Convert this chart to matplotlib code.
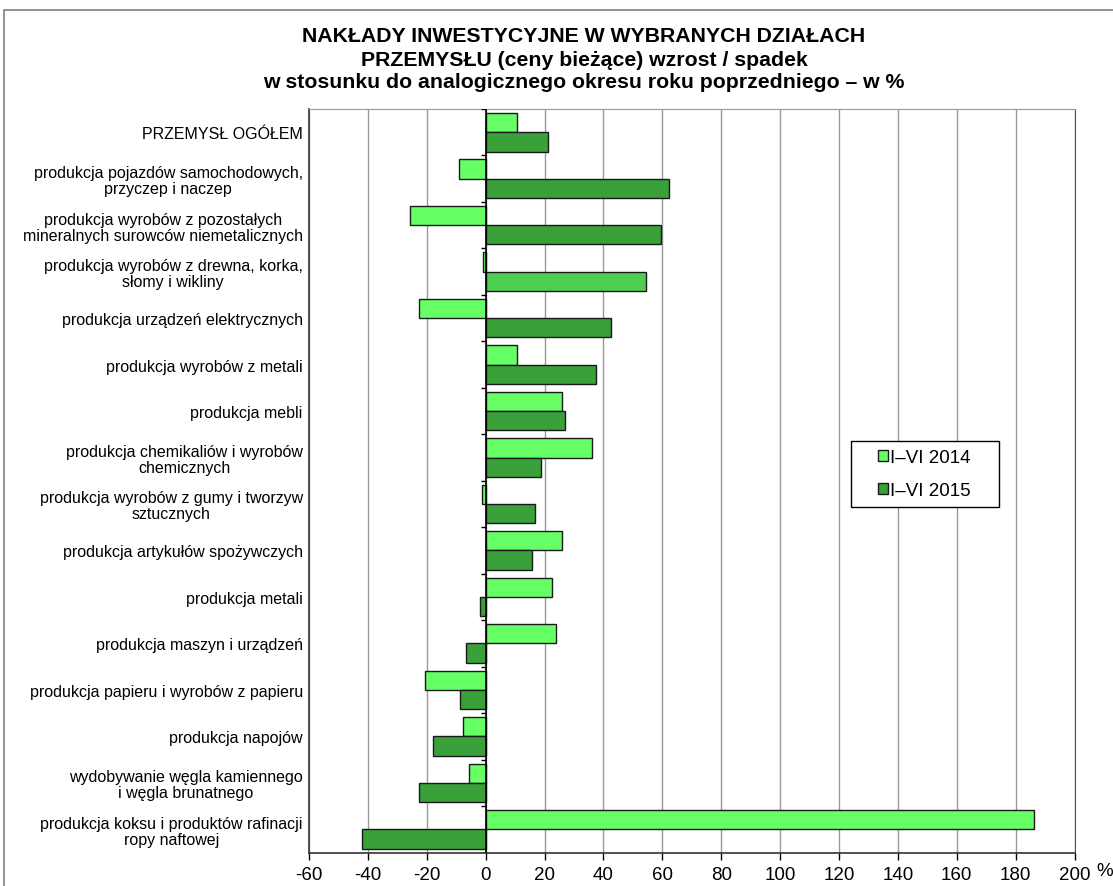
import matplotlib.pyplot as plt
import matplotlib.patches as mpatches
import matplotlib.transforms as mtransforms
import numpy as np

plt.rcParams["font.family"] = ["Liberation Sans", "DejaVu Sans"]

# Industry sections, top to bottom
categories = [
    "PRZEMYSŁ OGÓŁEM",
    "produkcja pojazdów samochodowych,\nprzyczep i naczep",
    "produkcja wyrobów z pozostałych\nmineralnych surowców niemetalicznych",
    "produkcja wyrobów z drewna, korka,\nsłomy i wikliny",
    "produkcja urządzeń elektrycznych",
    "produkcja wyrobów z metali",
    "produkcja mebli",
    "produkcja chemikaliów i wyrobów\nchemicznych",
    "produkcja wyrobów z gumy i tworzyw\nsztucznych",
    "produkcja artykułów spożywczych",
    "produkcja metali",
    "produkcja maszyn i urządzeń",
    "produkcja papieru i wyrobów z papieru",
    "produkcja napojów",
    "wydobywanie węgla kamiennego\ni węgla brunatnego",
    "produkcja koksu i produktów rafinacji\nropy naftowej",
]

# Change vs. same period of previous year, %
h1_2014 = [10.7, -9.2, -25.8, -1.0, -22.6, 10.7, 25.9, 36.1,
           -1.2, 25.9, 22.6, 24.0, -20.5, -7.7, -5.8, 186.4]
h1_2015 = [21.2, 62.4, 59.6, 54.4, 42.5, 37.6, 26.9, 18.8,
           16.6, 15.8, -1.8, -6.7, -8.7, -17.8, -22.5, -42.0]

series_names = ["I\u2013VI 2014", "I\u2013VI 2015"]
x_ticks = list(range(-60, 201, 20))

title_lines = [
    "NAKŁADY INWESTYCYJNE W WYBRANYCH DZIAŁACH",
    "PRZEMYSŁU (ceny bieżące) wzrost / spadek",
    "w stosunku do analogicznego okresu roku poprzedniego \u2013 w %",
]

LIGHT = "#66ff66"
DARK = "#3aa03a"
MID = "#4fcf4f"
EDGE = "#1a1a1a"

W, H = 1113, 887
fig = plt.figure(figsize=(W / 100, H / 100), dpi=100)

# Outer frame of the chart
fig.patches.append(mpatches.Rectangle(
    (4 / W, -0.05), 1.2, 1 - 11 / H + 0.05, transform=fig.transFigure,
    fill=False, edgecolor="#808080", lw=1.2, zorder=0))

ax = fig.add_axes([309 / W, 1 - 853.5 / H, 765.5 / W, 743.5 / H])

y = np.arange(len(categories))
h = 0.415
# the wood-products bar is drawn in a lighter shade
colors_2015 = [MID if i == 3 else DARK for i in range(len(h1_2015))]

ax.barh(y - h / 2, h1_2014, height=h, color=LIGHT, edgecolor=EDGE,
        lw=1, zorder=3)
ax.barh(y + h / 2, h1_2015, height=h, color=colors_2015, edgecolor=EDGE,
        lw=1, zorder=3)

ax.set_xlim(x_ticks[0], x_ticks[-1])
ax.set_ylim(len(categories) - 0.5, -0.5)
ax.set_xticks(x_ticks)
ax.set_xticklabels([str(t) for t in x_ticks], fontsize=13.5)
ax.tick_params(axis="x", length=5, width=1, pad=5, direction="out")
ax.set_yticks(y)
ax.set_yticklabels(categories, fontsize=11.5, linespacing=1.08)
for lbl in ax.get_yticklabels():
    lbl.set_multialignment("center")
ax.tick_params(axis="y", length=0, pad=4.5)

ax.grid(axis="x", color="#9a9a9a", lw=1, zorder=1)
ax.axvline(0, color="black", lw=1.2, zorder=4)
# Category separators on the zero line
ax.hlines(np.arange(len(categories) + 1) - 0.5, -1.5, 0, color="black",
          lw=1, zorder=4)

for side in ["left", "bottom"]:
    ax.spines[side].set_color("#333333")
    ax.spines[side].set_linewidth(1.2)
ax.spines["top"].set_color("#9a9a9a")
ax.spines["right"].set_color("#555555")

# unit sign after the last tick label
unit_tr = mtransforms.offset_copy(ax.transAxes, fig=fig, x=22, y=-18,
                                  units="dots")
ax.text(1.0, 0.0, "%", transform=unit_tr, fontsize=13.5,
        ha="left", va="center")

# Legend: white box drawn separately, entries on top of it
fig.patches.append(mpatches.Rectangle(
    (851 / W, 1 - 508 / H), 148 / W, 66 / H, transform=fig.transFigure,
    facecolor="white", edgecolor="black", lw=1, zorder=4))
handles = [mpatches.Patch(facecolor=LIGHT, edgecolor=EDGE, lw=1),
           mpatches.Patch(facecolor=DARK, edgecolor=EDGE, lw=1)]
leg = fig.legend(handles, series_names, loc="center left",
                 bbox_to_anchor=(878 / W, 1 - 475 / H), fontsize=13.5,
                 frameon=False, handlelength=0.55, handleheight=0.55,
                 handletextpad=0.1, labelspacing=0.85, borderpad=0,
                 borderaxespad=0)
leg.set_zorder(6)

for line, ypx in zip(title_lines, [37, 60, 83]):
    fig.text(584 / W, 1 - ypx / H, line, ha="center", va="center",
             fontsize=15.3, fontweight="bold")

fig.savefig("out.png", dpi=100)
